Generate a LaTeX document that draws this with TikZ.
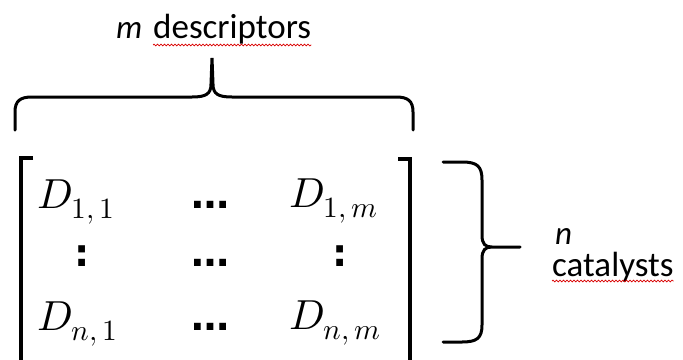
\documentclass[tikz,border=0pt]{standalone}
\usepackage{fontspec}
\usepackage{unicode-math}
\setmainfont{Carlito}
\setmathfont{Latin Modern Math}
\newfontfamily\dotfont{DejaVu Sans}
\usetikzlibrary{decorations.pathmorphing}

\begin{document}
\begin{tikzpicture}[x=1pt,y=-1pt,
  brace/.style={line width=3pt, line cap=round, line join=miter},
  bracket/.style={line width=4pt, line join=miter},
  lbl/.style={inner sep=0pt, anchor=base west, font=\fontsize{35}{40}\selectfont},
  var/.style={inner sep=0pt, anchor=base west, font=\fontsize{33}{36}\selectfont\itshape},
  entry/.style={inner sep=0pt, anchor=base west, font=\fontsize{42}{44}\selectfont},
  dotsym/.style={inner sep=0pt, anchor=base, font=\fontsize{38}{40}\selectfont\dotfont\bfseries},
  spell/.style={red!85!black, line width=0.7pt, decorate,
    decoration={snake, amplitude=0.9pt, segment length=3.5pt}}]
\useasboundingbox (0,0) rectangle (683,359);

% column label and its brace
\node[var] (mvar) at (116,38) {m};
\node[lbl] (desc) at (153,38) {descriptors};
\draw[spell] ([yshift=-7pt]desc.base west) -- ([yshift=-7pt]desc.base east);
\draw[brace] (15,130) -- (15,112) .. controls (15,101) and (20,97) .. (32,97)
  -- (192,97) .. controls (206,97) and (211,94) .. (211,84) -- (212,58)
  -- (213,84) .. controls (213,94) and (218,97) .. (232,97)
  -- (396,97) .. controls (408,97) and (413,101) .. (413,112) -- (413,130);

% matrix brackets
\draw[bracket] (33,158) -- (21,158) -- (21,372);
\draw[bracket] (398,159) -- (410,159) -- (410,372);

% matrix entries
\node[entry] (e11) at (37,208) {$D_{1,\mkern3mu 1}$};
\node[entry] (e1m) at (289,207) {$D_{1,\mkern3mu m}$};
\node[entry] (en1) at (37,330) {$D_{n,\mkern3mu 1}$};
\node[entry] (enm) at (289,329) {$D_{n,\mkern3mu m}$};

\node[dotsym] (h1) at (210,208) {…};
\node[dotsym] (h2) at (210,266) {…};
\node[dotsym] (h3) at (210,330) {…};
\node[dotsym] (v1) at (82,266) {:};
\node[dotsym] (v3) at (340,266) {:};

% row brace and its label
\draw[brace] (443,162) -- (462,162) .. controls (477,162) and (482,166) .. (482,180)
  -- (482,235) .. controls (482,244) and (485,247) .. (492,247) -- (520,247)
  (492,247) .. controls (485,247) and (482,250) .. (482,259)
  -- (482,325) .. controls (482,338) and (477,342) .. (462,342) -- (443,342);

\node[var] (nvar) at (555,244) {n};
\node[lbl] (cat) at (552,276) {catalysts};
\draw[spell] ([yshift=-5pt]cat.base west) -- ([yshift=-5pt]cat.base east);
\end{tikzpicture}
\end{document}
